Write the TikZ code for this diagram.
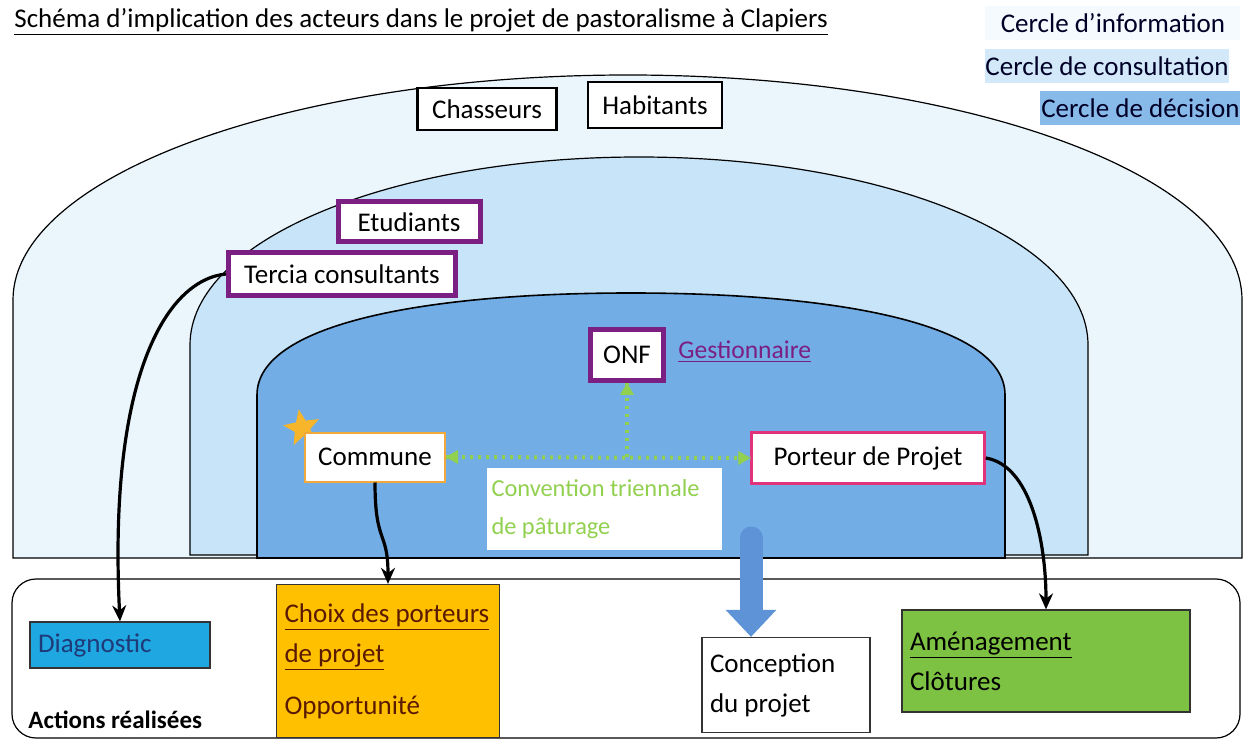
\documentclass[tikz,border=0pt]{standalone}
\usepackage{fontspec}
\setmainfont{Carlito}
\usepackage{xcolor}
\usetikzlibrary{shapes.geometric,arrows.meta,positioning}
\definecolor{infofill}{HTML}{EAF5FC}
\definecolor{consfill}{HTML}{C8E4F8}
\definecolor{decfill}{HTML}{72ADE5}
\definecolor{purpleline}{HTML}{7B1F82}
\definecolor{communeline}{HTML}{F2A93B}
\definecolor{porteurline}{HTML}{E0337C}
\definecolor{convgreen}{HTML}{92D050}
\definecolor{diagfill}{HTML}{1EA7E1}
\definecolor{choixfill}{HTML}{FFC000}
\definecolor{amenfill}{HTML}{7DC242}
\definecolor{bigarrow}{HTML}{5F93D8}
\definecolor{starfill}{HTML}{F7B52C}
\definecolor{darkblue}{HTML}{1F3A78}
\definecolor{darkred}{HTML}{5A1A00}

\begin{document}
\begin{tikzpicture}[x=0.5pt,y=-0.5pt,font=\fontsize{13.5}{20}\selectfont,
  actor/.style={draw,fill=white,line width=1.2pt,inner sep=0pt},
  member/.style={actor,draw=purpleline,line width=2.5pt},
  action/.style={draw=black!80,line width=0.6pt,inner xsep=4pt,inner ysep=0pt,align=flush left},
  legend/.style={anchor=north west,inner sep=0pt,minimum height=17pt,text=black!85!blue},
  convarrow/.style={convgreen,line width=2pt,dash pattern=on 1.5pt off 2.5pt},
  link/.style={line width=1.6pt,-{Stealth[length=8pt,width=7pt]}}]
  \useasboundingbox (0,0) rectangle (1245,742);

  % title and legend
  \node[anchor=west,inner sep=0pt] (title) at (14,22) {\underline{Schéma d’implication des acteurs dans le projet de pastoralisme à Clapiers}};
  \node[legend,fill=infofill!50,minimum width=127.5pt] (info) at (985,6) {Cercle d’information};
  \node[legend,fill=consfill!80,minimum width=121.5pt] (cons) at (985,49) {Cercle de consultation};
  \node[legend,fill=decfill!85,minimum width=100pt] (dec) at (1040,91) {Cercle de décision};

  % the three circles
  \draw[fill=infofill,line width=0.6pt] (13,558) -- (13,300) .. controls (13,176) and (289,75) .. (628,75)
    .. controls (967,75) and (1242,176) .. (1242,300) -- (1242,558) -- cycle;
  \draw[fill=consfill,line width=0.6pt] (190,555) -- (190,345) .. controls (190,240) and (391,157) .. (639,157)
    .. controls (887,157) and (1088,240) .. (1088,345) -- (1088,555) -- cycle;
  \draw[fill=decfill,line width=0.8pt] (257,558) -- (257,395) .. controls (257,325) and (420,293) .. (631,293)
    .. controls (842,293) and (1005,325) .. (1005,395) -- (1005,558) -- cycle;

  % actions frame
  \draw[fill=white,line width=0.6pt,rounded corners=12pt] (12,579) rectangle (1240,738);
  \node[anchor=west,inner sep=0pt,font=\fontsize{12.5}{14}\selectfont\bfseries] (actions) at (28,720) {Actions réalisées};

  % actors
  \node[actor,minimum width=69.5pt,minimum height=21pt] (chasseurs) at (487,109) {Chasseurs};
  \node[actor,minimum width=67pt,minimum height=23pt] (habitants) at (655,105) {Habitants};
  \node[member,minimum width=71pt,minimum height=20pt] (etudiants) at (409,222) {Etudiants};
  \node[member,minimum width=113.5pt,minimum height=21.5pt] (tercia) at (342,274) {Tercia consultants};
  \node[member,minimum width=36.5pt,minimum height=25.5pt] (onf) at (627,355) {ONF};
  \node[anchor=west,inner sep=0pt,text=purpleline,font=\fontsize{12.8}{15}\selectfont] (gest) at (678,352) {\underline{Gestionnaire}};
  \node[star,star points=5,star point ratio=2.3,fill=starfill,minimum size=19pt,inner sep=0pt,rotate=10] (etoile) at (302,428) {};
  \node[actor,draw=communeline,line width=1pt,minimum width=70pt,minimum height=24.5pt] (commune) at (375,457) {Commune};
  \node[actor,draw=porteurline,minimum width=116.5pt,minimum height=25.5pt] (porteur) at (868,458) {Porteur de Projet};
  \node[fill=white,text=convgreen,align=flush left,inner xsep=2.5pt,text width=112.5pt,minimum height=41pt,
    font=\fontsize{12.2}{19}\selectfont] (conv) at (604,509) {Convention triennale\\de pâturage};

  % actions
  \node[action,fill=diagfill,text=darkblue,text width=82pt,minimum height=23pt] (diag) at (120,645) {Diagnostic};
  \node[action,fill=choixfill,text=darkred,text width=103.5pt,minimum height=76.5pt] (choix) at (388,661)
    {\underline{Choix des porteurs}\\\underline{de projet}\\[6pt]Opportunité};
  \node[action,fill=white,text width=76pt,minimum height=47.5pt] (concept) at (786,685) {Conception\\du projet};
  \node[action,fill=amenfill,text width=136pt,minimum height=51pt] (amen) at (1046,661) {\underline{Aménagement}\\Clôtures};

  % convention between commune, porteur and ONF
  \draw[convarrow] (commune.east) -- (porteur.west);
  \draw[convarrow] (onf.south |- commune.east) -- (onf.south);
  \draw[convgreen,-{Triangle[length=6pt,width=7pt]}] ([xshift=-1pt]porteur.west) -- (porteur.west);
  \draw[convgreen,-{Triangle[length=6pt,width=7pt]}] ([xshift=1pt]commune.east) -- (commune.east);
  \draw[convgreen,-{Triangle[length=6pt,width=7pt]}] ([yshift=-1pt]onf.south) -- (onf.south);

  % links to the actions
  \draw[link] (tercia.west) .. controls (165,280) and (108,380) .. (diag.north);
  \draw[link] (commune.south) .. controls (375,545) and (388,530) .. (choix.north);
  \draw[link] (porteur.east) .. controls (1030,465) and (1046,540) .. (amen.north);
  \coordinate (decbase) at (751,538);
  \draw[bigarrow,line width=11.5pt,line cap=round,-{Triangle[length=13.5pt,width=24.5pt]}] (decbase) -- (decbase |- concept.north);
\end{tikzpicture}
\end{document}
